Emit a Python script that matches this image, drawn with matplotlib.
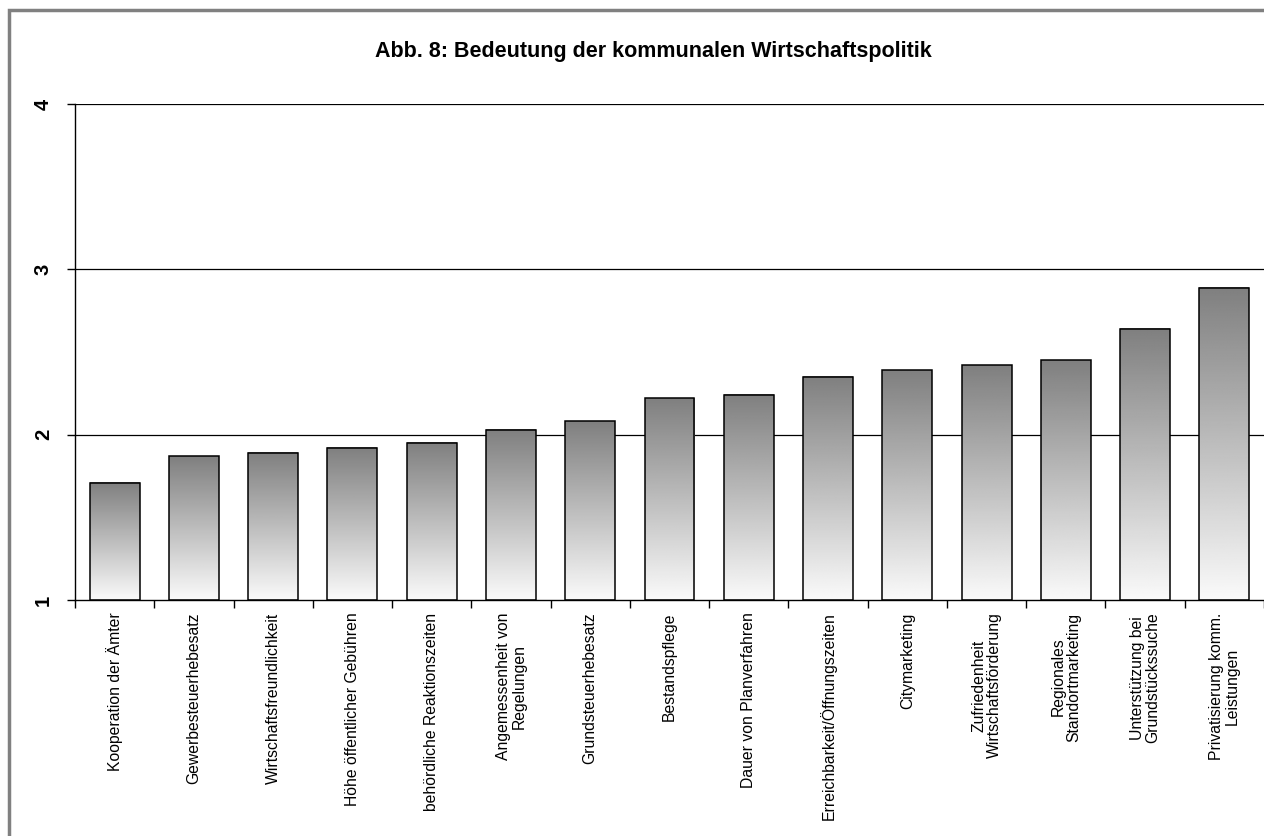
import numpy as np
import matplotlib
matplotlib.use("Agg")
import matplotlib.pyplot as plt
from matplotlib.patches import Rectangle

plt.rcParams['font.family'] = ['Liberation Sans', 'DejaVu Sans']

kategorien = [
    "Kooperation der Ämter",
    "Gewerbesteuerhebesatz",
    "Wirtschaftsfreundlichkeit",
    "Höhe öffentlicher Gebühren",
    "behördliche Reaktionszeiten",
    "Angemessenheit von\nRegelungen",
    "Grundsteuerhebesatz",
    "Bestandspflege",
    "Dauer von Planverfahren",
    "Erreichbarkeit/Öffnungszeiten",
    "Citymarketing",
    "Zufriedenheit\nWirtschaftsförderung",
    "Regionales\nStandortmarketing",
    "Unterstützung bei\nGrundstückssuche",
    "Privatisierung komm.\nLeistungen",
]
werte = [1.71, 1.87, 1.89, 1.92, 1.95, 2.03, 2.08, 2.22, 2.24, 2.35,
         2.39, 2.42, 2.45, 2.64, 2.89]
y_ticks = [1, 2, 3, 4]

fig = plt.figure(figsize=(12.64, 8.36), dpi=100)
# grauer Rahmen
fig.patches.append(Rectangle((9 / 1264, -0.05), 1.2, 1 - 10 / 836 + 0.05,
                             transform=fig.transFigure, fill=False,
                             edgecolor="#808080", linewidth=2.5))

ax = fig.add_axes([75 / 1264, 1 - 600 / 836, 1 - 75 / 1264, 496 / 836])
x = np.arange(len(werte))
basis = 1
bars = ax.bar(x, np.array(werte) - basis, bottom=basis, width=0.63,
              facecolor="none", edgecolor="black", linewidth=1.1, zorder=3)

# Farbverlauf in den Balken
grad = np.linspace(0.98, 0.5, 256).reshape(-1, 1)
for b in bars:
    x0, y0 = b.get_x(), b.get_y()
    ax.imshow(grad, cmap="gray", vmin=0, vmax=1, aspect="auto",
              extent=(x0, x0 + b.get_width(), y0, y0 + b.get_height()),
              origin="lower", zorder=2, interpolation="bilinear")

ax.set_xlim(-0.5, len(werte) - 0.5)
ax.set_ylim(1, 4)
ax.set_yticks(y_ticks)
ax.set_yticklabels([str(t) for t in y_ticks], rotation=90, fontsize=14.5,
                   fontweight="bold", va="center")
for t in y_ticks[1:]:
    ax.axhline(t, color="black", linewidth=0.9, zorder=1)

ax.set_xticks(np.arange(len(werte) + 1) - 0.5, minor=True)
ax.set_xticks(x)
ax.set_xticklabels(kategorien, rotation=90, fontsize=11.3, va="top",
                   ha="center", multialignment="center", linespacing=1.05)
ax.tick_params(axis="x", which="major", length=0, pad=9)
ax.tick_params(axis="x", which="minor", length=6, width=1, direction="out")
ax.tick_params(axis="y", length=6, width=1, direction="out", pad=10)

for s in ["top", "right"]:
    ax.spines[s].set_visible(False)
ax.spines["left"].set_linewidth(1)
ax.spines["bottom"].set_linewidth(1)

fig.text(653 / 1264, 1 - 52 / 836,
         "Abb. 8: Bedeutung der kommunalen Wirtschaftspolitik",
         ha="center", va="center", fontsize=15.5, fontweight="bold")

fig.savefig("out.png", dpi=100)
